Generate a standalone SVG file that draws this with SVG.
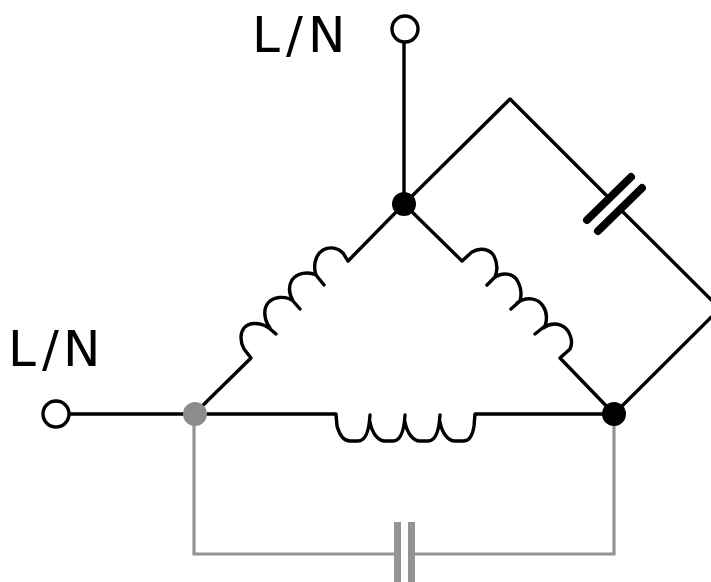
<svg xmlns="http://www.w3.org/2000/svg" width="711" height="582" viewBox="0 0 711 582">
<style>
.w{fill:none;stroke:#000;stroke-width:3.4;stroke-linejoin:round;stroke-linecap:round}
.g{fill:none;stroke:#949494;stroke-width:3.2}
.t{fill:#fff;stroke:#000;stroke-width:3.4}
.p{fill:none;stroke:#000;stroke-width:8;stroke-linecap:round}
.l{font:50px "DejaVu Sans",Verdana,sans-serif;fill:#000}
</style>
<rect width="711" height="582" fill="#fff"/>
<g id="connectors">
<path class="g" d="M194 414V554H394M415 554H614V414"/>
<path class="g" d="M397.500 522V582M411.500 522V582" style="stroke-width:7"/>
<path class="w" d="M404 43V204M70 414H194M404 204L510 99L608 197M623 212L720 308.500L614 414"/>
<path class="p" d="M587 220L631 177M598 231L642 188"/>
<path class="w" d="M194 414L251 358L244 349C240 342 240 333 244 328C249 322 260 322 269 328L276 334M270 328C264 320 263 309 268 303C273 297 285 295 293 301L300 309M293 301C288 292 289 285 292 280C297 273 308 271 316 275L324 285M316 275C313 266 315 255 323 250C330 246 338 248 343 253L348 261L404 204"/>
<path class="w" d="M404 204L462 261L472 252C480 247 490 249 494 256C498 264 497 272 495 277L487 285M494 278C503 271 513 274 517 280C521 287 522 294 520 301L511 309M517 303C526 296 538 298 543 306C547 312 547 320 545 326L535 334M543 328C553 321 563 324 568 331C572 338 572 345 570 349L560 358L614 414"/>
<path class="w" d="M194 414H336L337 426C339 433 343 441 350 441H358C365 441 369 432 370 415M370 422C372 433 378 441 385 441H393C400 441 404 432 405 415M405 422C407 433 413 441 420 441H428C435 441 439 432 440 415M440 422C442 433 448 441 455 441H463C470 441 473 433 474 426L475 414H614"/>
</g>
<g id="node-top-terminal"><circle class="t" cx="405" cy="29" r="13"/></g>
<g id="node-left-terminal"><circle class="t" cx="56" cy="414" r="13"/></g>
<g id="node-top"><circle cx="404" cy="204" r="12" fill="#000"/></g>
<g id="node-right"><circle cx="614" cy="414" r="12" fill="#000"/></g>
<g id="node-left"><circle cx="195" cy="414" r="12" fill="#8c8c8c"/></g>
<g id="label-top"><text class="l" x="252" y="52">L</text><text class="l" x="286" y="52">/</text><text class="l" x="308" y="52">N</text></g>
<g id="label-left"><text class="l" x="8" y="366">L</text><text class="l" x="42" y="366">/</text><text class="l" x="63" y="366">N</text></g>
</svg>
